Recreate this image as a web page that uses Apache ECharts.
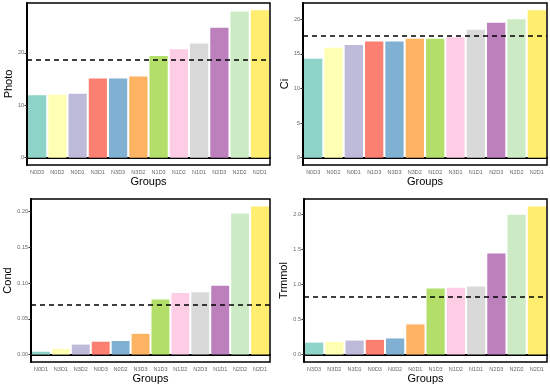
<!DOCTYPE html>
<html><head><meta charset="utf-8">
<script src="https://cdn.jsdelivr.net/npm/echarts@6/dist/echarts.min.js"></script>
<style>html,body{margin:0;padding:0;background:#fff}#c{width:550px;height:388px}</style>
</head><body><div id="c"></div>
<script>
const palette = ['#8DD3C7','#FFFFB3','#BEBADA','#FB8072','#80B1D3','#FDB462','#B3DE69','#FCCDE5','#D9D9D9','#BC80BD','#CCEBC5','#FFED6F'];

const photoCats = ['N0D3','N0D2','N0D1','N3D1','N3D3','N3D2','N1D3','N1D2','N1D1','N2D3','N2D2','N2D1'];
const photoVals = [11.9, 12.0, 12.2, 15.1, 15.1, 15.5, 19.4, 20.7, 21.8, 24.8, 27.9, 28.1];
const photoMean = 18.7;
const photoTicks = [0, 10, 20];
const photoTickLabels = ['0', '10', '20'];

const ciCats = ['N0D3','N0D2','N0D1','N1D3','N3D3','N3D2','N1D2','N3D1','N1D1','N2D3','N2D2','N2D1'];
const ciVals = [14.3, 15.9, 16.3, 16.8, 16.8, 17.2, 17.2, 17.4, 18.5, 19.5, 20.0, 21.3];
const ciMean = 17.65;
const ciTicks = [0, 5, 10, 15, 20];
const ciTickLabels = ['0', '5', '10', '15', '20'];

const condCats = ['N0D1','N3D1','N3D2','N0D3','N0D2','N3D3','N1D3','N1D2','N2D3','N1D1','N2D2','N2D1'];
const condVals = [0.004, 0.008, 0.014, 0.018, 0.019, 0.029, 0.077, 0.086, 0.087, 0.096, 0.197, 0.207];
const condMean = 0.0704;
const condTicks = [0, 0.05, 0.10, 0.15, 0.20];
const condTickLabels = ['0.00', '0.05', '0.10', '0.15', '0.20'];

const trCats = ['N3D3','N3D2','N3D1','N0D3','N0D2','N0D1','N1D3','N1D2','N1D1','N2D3','N2D2','N2D1'];
const trVals = [0.17, 0.18, 0.20, 0.21, 0.23, 0.43, 0.94, 0.95, 0.97, 1.44, 1.99, 2.11];
const trMean = 0.82;
const trTicks = [0, 0.5, 1.0, 1.5, 2.0];
const trTickLabels = ['0.0', '0.5', '1.0', '1.5', '2.0'];

const panels = [
  {name:'Photo', cats:photoCats, vals:photoVals, mean:photoMean, ticks:photoTicks, labels:photoTickLabels, grid:{left:27, top:3, width:243, height:162}},
  {name:'Ci', cats:ciCats, vals:ciVals, mean:ciMean, ticks:ciTicks, labels:ciTickLabels, grid:{left:303, top:3, width:244, height:162}},
  {name:'Cond', cats:condCats, vals:condVals, mean:condMean, ticks:condTicks, labels:condTickLabels, grid:{left:31, top:199, width:239, height:163}},
  {name:'Trmmol', cats:trCats, vals:trVals, mean:trMean, ticks:trTicks, labels:trTickLabels, grid:{left:304, top:199, width:243, height:163}}
];

const FONT = '"Liberation Sans", Arial, sans-serif';
const grids = [], xAxes = [], yAxes = [], series = [];
panels.forEach((p, i) => {
  grids.push(Object.assign({show:true, borderColor:'#000', borderWidth:1.5, backgroundColor:'#fff', containLabel:false}, p.grid));
  xAxes.push({
    type:'category', gridIndex:i, data:p.cats,
    name:'Groups', nameLocation:'middle', nameGap:11,
    nameTextStyle:{fontFamily:FONT, fontSize:11, color:'#000'},
    axisLine:{lineStyle:{color:'#000', width:2}},
    axisTick:{alignWithLabel:true, length:2.5, lineStyle:{color:'#333', width:1}},
    axisLabel:{fontFamily:FONT, fontSize:5.5, color:'#666', margin:4, interval:0}
  });
  const mx = Math.max(...p.vals);
  yAxes.push({
    type:'value', gridIndex:i, min:-0.05*mx, max:1.05*mx,
    name:p.name, nameLocation:'middle', nameGap: (p.name==='Cond' ? 17 : 13),
    nameTextStyle:{fontFamily:FONT, fontSize:11, color:'#000'},
    axisLine:{show:true, lineStyle:{color:'#000', width:2}},
    splitLine:{show:false},
    axisTick:{show:true, length:2.5, customValues:p.ticks, lineStyle:{color:'#333', width:1}},
    axisLabel:{fontFamily:FONT, fontSize:5.5, color:'#666', margin:3, customValues:p.ticks,
      formatter:(v)=>{const k=p.ticks.findIndex(t=>Math.abs(t-v)<1e-9);return k>=0?p.labels[k]:'';}}
  });
  series.push({
    type:'bar', xAxisIndex:i, yAxisIndex:i, data:p.vals, barCategoryGap:'10%',
    itemStyle:{color:(d)=>palette[d.dataIndex]},
    silent:true, animation:false,
    markLine:{silent:true, symbol:'none', label:{show:false},
      lineStyle:{color:'#000', type:[5,4], width:1.5},
      data:[{yAxis:p.mean}]}
  });
});

const chart = echarts.init(document.getElementById('c'), null, {renderer:'canvas'});
chart.setOption({animation:false, grid:grids, xAxis:xAxes, yAxis:yAxes, series:series});
</script></body></html>
